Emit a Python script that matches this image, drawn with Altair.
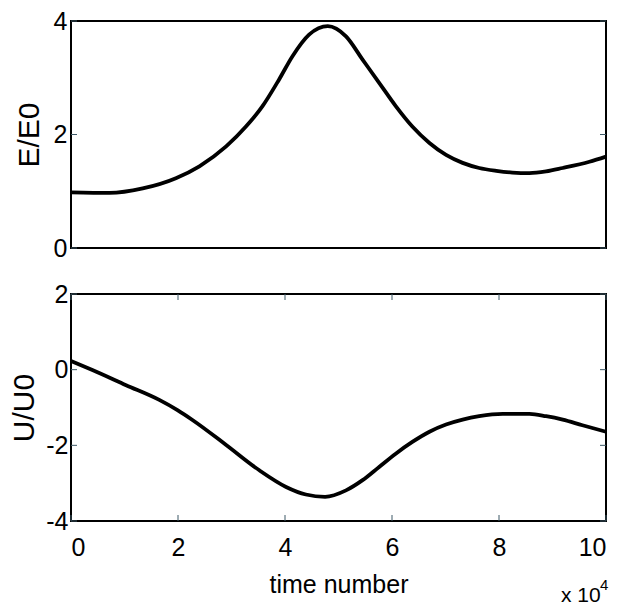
import altair as alt
import pandas as pd

# ---- data ----
t_E = [0, 0.72, 1.34, 1.96, 2.40, 2.90, 3.27, 3.58, 3.89, 4.14, 4.45, 4.80,
       5.14, 5.45, 5.76, 6.07, 6.38, 6.70, 7.01, 7.32, 7.63, 7.95, 8.25, 8.57, 8.88, 9.19, 9.69, 10]
E_vals = [0.98, 0.97, 1.05, 1.23, 1.44, 1.79, 2.14, 2.50, 2.97, 3.38, 3.76, 3.91,
          3.73, 3.32, 2.91, 2.50, 2.14, 1.85, 1.64, 1.50, 1.41, 1.36, 1.33, 1.32, 1.35, 1.41, 1.52, 1.61]

t_U = [0, 0.40, 1.03, 1.65, 1.99, 2.27, 2.90, 3.52, 4.02, 4.39, 4.75, 5.14, 5.45,
       5.76, 6.07, 6.38, 6.70, 7.01, 7.32, 7.63, 8.07, 8.57, 8.88, 9.19, 9.56, 10]
U_vals = [0.23, -0.01, -0.41, -0.80, -1.07, -1.33, -1.99, -2.66, -3.10, -3.30, -3.36,
          -3.19, -2.92, -2.57, -2.22, -1.91, -1.64, -1.45, -1.32, -1.23, -1.17, -1.17,
          -1.23, -1.32, -1.47, -1.64]

x_ticks = [0, 2, 4, 6, 8, 10]
E_ticks = [0, 2, 4]
U_ticks = [-4, -2, 0, 2]

W, H = 535, 227
TICK = 6
FONT = "Liberation Sans"
TICK_COLOR = "#3d5866"

dfE = pd.DataFrame({"t": t_E, "E": E_vals})
dfU = pd.DataFrame({"t": t_U, "U": U_vals})
dfEt = pd.DataFrame({"E": E_ticks})
dfUt = pd.DataFrame({"U": U_ticks})
dfXt = pd.DataFrame({"t": x_ticks})

xscale = alt.Scale(domain=[0, 10], nice=False, zero=False)

yE = alt.Y("E:Q", scale=alt.Scale(domain=[0, 4], nice=False),
           axis=alt.Axis(values=E_ticks, title="E/E0", grid=False, ticks=False, tickSize=0,
                         domain=False, labelFont=FONT, labelFontSize=25,
                         labelColor="black", labelPadding=4,
                         titleFont=FONT, titleFontSize=30, titleFontWeight="normal",
                         titleColor="black", titlePadding=9))
yU = alt.Y("U:Q", scale=alt.Scale(domain=[-4, 2], nice=False),
           axis=alt.Axis(values=U_ticks, title="U/U0", grid=False, ticks=False, tickSize=0,
                         domain=False, labelFont=FONT, labelFontSize=25,
                         labelExpr="'' + datum.value",
                         labelColor="black", labelPadding=3,
                         titleFont=FONT, titleFontSize=30, titleFontWeight="normal",
                         titleColor="black", titlePadding=6))
xTop = alt.X("t:Q", scale=xscale, axis=None)
xBot = alt.X("t:Q", scale=xscale,
             axis=alt.Axis(values=x_ticks, title="time number", grid=False, ticks=False,
                           tickSize=0, domain=False, labelFont=FONT, labelFontSize=25,
                           labelColor="black", labelPadding=14,
                           titleFont=FONT, titleFontSize=25, titleFontWeight="normal",
                           titleColor="black", titlePadding=12))

lineE = alt.Chart(dfE).mark_line(color="black", strokeWidth=3.8, interpolate="monotone").encode(
    x=xTop, y=yE)
eTickL = alt.Chart(dfEt).mark_rule(color=TICK_COLOR, strokeWidth=1).encode(
    y=yE, x=alt.value(0), x2=alt.value(TICK))
eTickR = alt.Chart(dfEt).mark_rule(color=TICK_COLOR, strokeWidth=1).encode(
    y=yE, x=alt.value(W - TICK), x2=alt.value(W))
top = alt.layer(lineE, eTickL, eTickR).properties(width=W, height=H)

lineU = alt.Chart(dfU).mark_line(color="black", strokeWidth=3.8, interpolate="monotone").encode(
    x=xBot, y=yU)
uTickL = alt.Chart(dfUt).mark_rule(color=TICK_COLOR, strokeWidth=1).encode(
    y=yU, x=alt.value(0), x2=alt.value(TICK))
uTickR = alt.Chart(dfUt).mark_rule(color=TICK_COLOR, strokeWidth=1).encode(
    y=yU, x=alt.value(W - TICK), x2=alt.value(W))
xTickB = alt.Chart(dfXt).mark_rule(color=TICK_COLOR, strokeWidth=1).encode(
    x=xBot, y=alt.value(H - TICK), y2=alt.value(H))
xTickT = alt.Chart(dfXt).mark_rule(color=TICK_COLOR, strokeWidth=1).encode(
    x=xBot, y=alt.value(0), y2=alt.value(TICK))
mult = alt.Chart(pd.DataFrame({"s": ["x 10"]})).mark_text(
    font=FONT, fontSize=21, color="black", align="left", baseline="alphabetic").encode(
    text="s:N", x=alt.value(490), y=alt.value(308))
expo = alt.Chart(pd.DataFrame({"s": ["4"]})).mark_text(
    font=FONT, fontSize=15, color="black", align="left", baseline="alphabetic").encode(
    text="s:N", x=alt.value(529), y=alt.value(296))
bottom = alt.layer(lineU, uTickL, uTickR, xTickB, xTickT, mult, expo).properties(width=W, height=H)

chart = alt.vconcat(top, bottom, spacing=46, bounds="flush").properties(
    padding={"left": 0, "top": 0, "right": -3, "bottom": 0}
).configure(background="white").configure_view(stroke="black", strokeWidth=2)

chart.save("out.html", embed_options={"renderer": "svg", "actions": False})
